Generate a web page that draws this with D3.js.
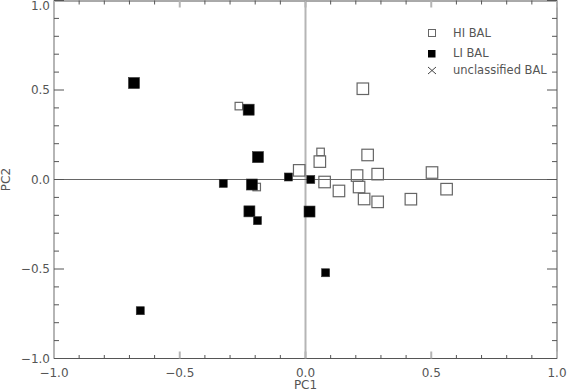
<!DOCTYPE html>
<html>
<head>
<meta charset="utf-8">
<script src="https://cdn.jsdelivr.net/npm/d3@7"></script>
<style>
  body { margin: 0; background: #fff; }
  svg { display: block; font-family: "DejaVu Sans", sans-serif; }
</style>
</head>
<body>
<svg id="chart" width="567" height="392"></svg>
<script>
const width = 567;
const height = 392;

// HI BAL points (PC1, PC2), big and small markers
const hiBig = [
  [0.228, 0.507], [-0.025, 0.051], [0.057, 0.100], [0.076, -0.014],
  [0.133, -0.064], [0.205, 0.022], [0.213, -0.042], [0.247, 0.137],
  [0.233, -0.109], [0.287, 0.030], [0.287, -0.125], [0.419, -0.110],
  [0.503, 0.039], [0.561, -0.054]
];
const hiSmall = [[-0.265, 0.410], [-0.194, -0.042], [0.060, 0.154]];

// LI BAL points
const liBig = [
  [-0.682, 0.539], [-0.226, 0.390], [-0.189, 0.125], [-0.213, -0.028],
  [-0.223, -0.178], [0.016, -0.179]
];
const liSmall = [
  [-0.657, -0.733], [-0.327, -0.022], [-0.191, -0.230], [-0.068, 0.014],
  [0.021, 0.000], [0.080, -0.521]
];

const majorTicks = [-1.0, -0.5, 0.0, 0.5, 1.0];
const legendLabels = ["HI BAL", "LI BAL", "unclassified BAL"];

const plotLeft = 54, plotRight = 557, plotTop = 0.5, plotBottom = 358.5;

const svg = d3.select("#chart");

const x = d3.scaleLinear().domain([-1, 1]).range([plotLeft, plotRight]);
const y = d3.scaleLinear().domain([-1, 1]).range([plotBottom, plotTop]);

const dark = "#555";
const light = "#b5b5b5";
const fmt = d3.format(".1f");

// minor ticks every 0.1
const minorTicks = d3.range(-10, 11).map(i => i / 10).filter(v => Math.abs(v * 2 - Math.round(v * 2)) > 1e-6);

// zero lines
svg.append("line")
  .attr("x1", x(0)).attr("x2", x(0))
  .attr("y1", plotTop).attr("y2", plotBottom)
  .attr("stroke", light).attr("stroke-width", 2);
svg.append("line")
  .attr("x1", plotLeft).attr("x2", plotRight)
  .attr("y1", y(0)).attr("y2", y(0))
  .attr("stroke", "#666").attr("stroke-width", 1);

// box
svg.append("line").attr("x1", plotLeft).attr("x2", plotRight).attr("y1", plotBottom).attr("y2", plotBottom)
  .attr("stroke", dark).attr("stroke-width", 1);
svg.append("line").attr("x1", plotLeft).attr("x2", plotRight).attr("y1", plotTop + 0.5).attr("y2", plotTop + 0.5)
  .attr("stroke", dark).attr("stroke-width", 1);
svg.append("line").attr("x1", plotLeft).attr("x2", plotLeft).attr("y1", plotTop).attr("y2", plotBottom)
  .attr("stroke", light).attr("stroke-width", 2);
svg.append("line").attr("x1", plotRight).attr("x2", plotRight).attr("y1", plotTop).attr("y2", plotBottom)
  .attr("stroke", dark).attr("stroke-width", 1);

// x ticks (bottom and top)
const xt = svg.append("g");
majorTicks.forEach(v => {
  xt.append("line").attr("x1", x(v)).attr("x2", x(v)).attr("y1", plotBottom).attr("y2", plotBottom - 7)
    .attr("stroke", light).attr("stroke-width", 2);
  xt.append("line").attr("x1", x(v)).attr("x2", x(v)).attr("y1", plotTop).attr("y2", plotTop + 7)
    .attr("stroke", light).attr("stroke-width", 2);
});
minorTicks.forEach(v => {
  xt.append("line").attr("x1", x(v)).attr("x2", x(v)).attr("y1", plotBottom).attr("y2", plotBottom - 3.5)
    .attr("stroke", dark).attr("stroke-width", 1);
  xt.append("line").attr("x1", x(v)).attr("x2", x(v)).attr("y1", plotTop).attr("y2", plotTop + 4)
    .attr("stroke", dark).attr("stroke-width", 1);
});

// y ticks (left and right)
const yt = svg.append("g");
majorTicks.forEach(v => {
  yt.append("line").attr("x1", plotLeft).attr("x2", plotLeft + 10).attr("y1", y(v)).attr("y2", y(v))
    .attr("stroke", dark).attr("stroke-width", 1);
  yt.append("line").attr("x1", plotRight).attr("x2", plotRight - 10).attr("y1", y(v)).attr("y2", y(v))
    .attr("stroke", dark).attr("stroke-width", 1);
});
minorTicks.forEach(v => {
  yt.append("line").attr("x1", plotLeft).attr("x2", plotLeft + 5).attr("y1", y(v)).attr("y2", y(v))
    .attr("stroke", dark).attr("stroke-width", 1);
  yt.append("line").attr("x1", plotRight).attr("x2", plotRight - 5).attr("y1", y(v)).attr("y2", y(v))
    .attr("stroke", dark).attr("stroke-width", 1);
});

// tick labels
svg.selectAll(".xlab").data(majorTicks).enter().append("text")
  .attr("class", "xlab")
  .attr("x", d => x(d)).attr("y", 376.5)
  .attr("text-anchor", "middle")
  .attr("font-size", "12px").attr("fill", dark)
  .text(d => fmt(d));

svg.selectAll(".ylab").data(majorTicks).enter().append("text")
  .attr("class", "ylab")
  .attr("x", 50).attr("y", d => Math.max(y(d) + 4.3, 10))
  .attr("text-anchor", "end")
  .attr("font-size", "12px").attr("fill", dark)
  .text(d => fmt(d));

// axis titles
svg.append("text").attr("x", x(0)).attr("y", 389)
  .attr("text-anchor", "middle").attr("font-size", "12px").attr("fill", dark)
  .text("PC1");
svg.append("text")
  .attr("transform", `translate(10,${y(0)}) rotate(-90)`)
  .attr("text-anchor", "middle").attr("font-size", "12px").attr("fill", dark)
  .text("PC2");

// markers: HI (open) below LI (filled)
function openSquares(data, s) {
  svg.append("g").selectAll("rect").data(data).enter().append("rect")
    .attr("x", d => x(d[0]) - s / 2).attr("y", d => y(d[1]) - s / 2)
    .attr("width", s).attr("height", s)
    .attr("fill", "none").attr("stroke", "#666").attr("stroke-width", 1.2);
}
function filledSquares(data, s) {
  svg.append("g").selectAll("rect").data(data).enter().append("rect")
    .attr("x", d => x(d[0]) - s / 2).attr("y", d => y(d[1]) - s / 2)
    .attr("width", s).attr("height", s)
    .attr("fill", "#000").attr("stroke", "#333").attr("stroke-width", 0.6);
}
openSquares(hiBig, 11.5);
openSquares(hiSmall, 7.5);
filledSquares(liBig, 11);
filledSquares(liSmall, 8);

// legend
const legend = svg.append("g");
const ly = [33, 53.5, 70.5];
legend.append("rect").attr("x", 428.5).attr("y", ly[0] - 3.5).attr("width", 7).attr("height", 7)
  .attr("fill", "none").attr("stroke", "#666").attr("stroke-width", 1);
legend.append("rect").attr("x", 428).attr("y", ly[1] - 3.5).attr("width", 7.5).attr("height", 7.5)
  .attr("fill", "#000");
legend.append("path")
  .attr("d", `M428,${ly[2] - 3.5}L436,${ly[2] + 3.5}M428,${ly[2] + 3.5}L436,${ly[2] - 3.5}`)
  .attr("stroke", "#444").attr("stroke-width", 1);
legend.selectAll("text").data(legendLabels).enter().append("text")
  .attr("x", 453).attr("y", (d, i) => ly[i] + 3.5)
  .attr("font-size", "11.5px").attr("fill", dark)
  .text(d => d);
</script>
</body>
</html>
